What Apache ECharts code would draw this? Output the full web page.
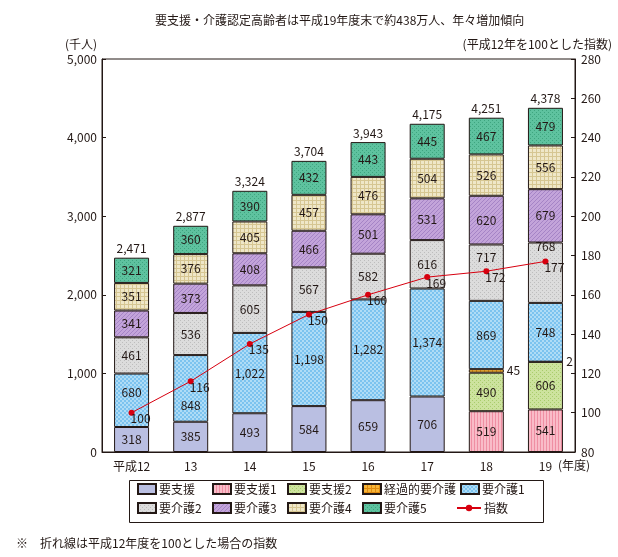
<!DOCTYPE html>
<html><head><meta charset="utf-8">
<script src="https://cdn.jsdelivr.net/npm/echarts@6/dist/echarts.min.js"></script>
<style>html,body{margin:0;padding:0;background:#fff}#c{width:618px;height:557px}</style>
</head><body><div id="c"></div>
<script>
const categories = ['平成12','13','14','15','16','17','18','19'];
const youshien   = [318, 385, 493, 584, 659, 706, null, null];
const youshien1  = [null, null, null, null, null, null, 519, 541];
const youshien2  = [null, null, null, null, null, null, 490, 606];
const keika      = [null, null, null, null, null, null, 45, 2];
const kaigo1     = [680, 848, 1022, 1198, 1282, 1374, 869, 748];
const kaigo2     = [461, 536, 605, 567, 582, 616, 717, 768];
const kaigo3     = [341, 373, 408, 466, 501, 531, 620, 679];
const kaigo4     = [351, 376, 405, 457, 476, 504, 526, 556];
const kaigo5     = [321, 360, 390, 432, 443, 445, 467, 479];
const totals     = [2471, 2877, 3324, 3704, 3943, 4175, 4251, 4378];
const indexVals  = [100, 116, 135, 150, 160, 169, 172, 177];

const FONT = '"Noto Sans CJK JP", sans-serif';
const INK = '#231815';

function pat(bg, fg, type) {
  const c = document.createElement('canvas');
  const n = type === 'v' ? 3 : 4;
  c.width = n; c.height = n;
  const g = c.getContext('2d');
  g.fillStyle = bg; g.fillRect(0, 0, n, n);
  g.fillStyle = fg;
  if (type === 'v') { g.fillRect(0, 0, 1, n); }
  else if (type === 'dots') { g.fillRect(0, 0, 1, 1); g.fillRect(2, 2, 1, 1); }
  else if (type === 'grid') { g.fillRect(0, 0, n, 1); g.fillRect(0, 0, 1, n); }
  else if (type === 'diag') { for (let i = 0; i < n; i++) g.fillRect(i, n - 1 - i, 1, 1); }
  else if (type === 'check') { g.fillRect(0, 0, 2, 2); g.fillRect(2, 2, 2, 2); }
  return { image: c, repeat: 'repeat' };
}

const fmt = v => Number(v).toLocaleString('en-US');

// label nudges (style only) to keep value labels clear of the index line
function withOffsets(data, offs) {
  return data.map((v, i) => (offs[i] && v != null) ? { value: v, label: { offset: [0, offs[i]] } } : v);
}

function barSeries(name, data, color, labelPos) {
  return {
    name, type: 'bar', stack: 'a', data, barWidth: 35,
    itemStyle: { color, borderColor: INK, borderWidth: 1 },
    label: {
      show: true, position: labelPos || 'inside', color: INK, fontSize: 12, fontFamily: FONT,
      distance: 3,
      formatter: p => (p.value == null ? '' : fmt(p.value))
    },
    emphasis: { disabled: true }
  };
}

const series = [
  barSeries('要支援', youshien, '#babfe2'),
  barSeries('要支援1', youshien1, pat('#f9bcc8', '#ef8fa3', 'v')),
  barSeries('要支援2', youshien2, pat('#cde39e', '#a9cc6c', 'dots')),
  barSeries('経過的要介護', keika, pat('#f6b538', '#e08a10', 'grid'), 'right'),
  barSeries('要介護1', withOffsets(kaigo1, { 0: -8, 1: 17 }), pat('#afdcf6', '#7cc3ef', 'check')),
  barSeries('要介護2', withOffsets(kaigo2, { 6: -15, 7: -26 }), pat('#dcdcdc', '#bdbdbd', 'dots')),
  barSeries('要介護3', kaigo3, pat('#c3a4da', '#a584c6', 'diag')),
  barSeries('要介護4', kaigo4, pat('#efe7c8', '#d6c692', 'grid')),
  barSeries('要介護5', kaigo5, pat('#5ec29f', '#3ea57f', 'dots')),
  {
    name: '合計', type: 'bar', stack: 'a', barWidth: 35, silent: true,
    data: totals.map(() => 0),
    itemStyle: { color: 'transparent', borderWidth: 0 },
    label: { show: true, position: 'top', distance: 3, color: INK, fontSize: 12, fontFamily: FONT,
      formatter: p => fmt(totals[p.dataIndex]) }
  },
  {
    name: '指数', type: 'line', yAxisIndex: 1, data: indexVals, z: 10,
    symbol: 'circle', symbolSize: 6,
    lineStyle: { color: '#d7000f', width: 1 },
    itemStyle: { color: '#d7000f' },
    label: { show: true, position: [2, 3], align: 'left', verticalAlign: 'top',
      color: INK, fontSize: 12, fontFamily: FONT },
    emphasis: { disabled: true }
  }
];

const legendItems = [
  ['要支援', 137, 491], ['要支援1', 212, 491], ['要支援2', 287, 491], ['経過的要介護', 362, 491], ['要介護1', 460, 491],
  ['要介護2', 137, 510], ['要介護3', 212, 510], ['要介護4', 287, 510], ['要介護5', 362, 510], ['指数', 456, 510]
];
const legends = legendItems.map(([n, x, y]) => ({
  data: [n], left: x, top: y - 8, padding: 0, itemGap: 0,
  icon: n === '指数' ? undefined : 'rect',
  itemWidth: n === '指数' ? 24 : 18, itemHeight: n === '指数' ? 8 : 10,
  selectedMode: false,
  textStyle: { fontSize: 12, fontFamily: FONT, color: INK, padding: [0, 0, 0, -2] }
}));

const chart = echarts.init(document.getElementById('c'), null, { renderer: 'canvas' });
chart.setOption({
  animation: false,
  backgroundColor: '#fff',
  title: [
    { text: '要支援・介護認定高齢者は平成19年度末で約438万人、年々増加傾向', left: 150, top: 9,
      textStyle: { fontSize: 12, fontWeight: 'normal', color: INK, fontFamily: FONT } },
    { text: '※　折れ線は平成12年度を100とした場合の指数', left: 11, top: 532,
      textStyle: { fontSize: 12, fontWeight: 'normal', color: INK, fontFamily: FONT } }
  ],
  legend: legends,
  grid: { left: 102, right: 43, top: 59, bottom: 105, show: true, borderColor: INK, borderWidth: 1, containLabel: false },
  xAxis: {
    type: 'category', data: categories,
    name: '(年度)', nameLocation: 'end', nameGap: -22,
    nameTextStyle: { fontSize: 12, fontFamily: FONT, color: INK, align: 'left', verticalAlign: 'top', padding: [7, 0, 0, -12] },
    axisLine: { lineStyle: { color: INK, width: 1 } },
    axisTick: { inside: true, length: 4, lineStyle: { color: INK } },
    axisLabel: { interval: 0, color: INK, fontSize: 12, fontFamily: FONT, margin: 8 }
  },
  yAxis: [
    {
      type: 'value', min: 0, max: 5000, interval: 1000,
      name: '(千人)', nameLocation: 'end', nameGap: 9,
      nameTextStyle: { fontSize: 12, fontFamily: FONT, color: INK, align: 'center', padding: [0, 42, 0, 0] },
      axisLine: { show: true, lineStyle: { color: INK } },
      axisTick: { show: true, inside: true, length: 4, lineStyle: { color: INK } },
      splitLine: { show: false },
      axisLabel: { color: INK, fontSize: 12, fontFamily: FONT, margin: 5, formatter: v => fmt(v) }
    },
    {
      type: 'value', min: 80, max: 280, interval: 20, position: 'right',
      name: '(平成12年を100とした指数)', nameLocation: 'end', nameGap: 9,
      nameTextStyle: { fontSize: 12, fontFamily: FONT, color: INK, align: 'right', padding: [0, -37, 0, 0] },
      axisLine: { show: true, lineStyle: { color: INK } },
      axisTick: { show: true, inside: true, length: 4, lineStyle: { color: INK } },
      splitLine: { show: false },
      axisLabel: { color: INK, fontSize: 12, fontFamily: FONT, margin: 6 }
    }
  ],
  graphic: [
    { type: 'rect', shape: { x: 129.5, y: 480.5, width: 414, height: 42 },
      style: { fill: 'none', stroke: INK, lineWidth: 1 }, silent: true }
  ],
  series
});
</script></body></html>
